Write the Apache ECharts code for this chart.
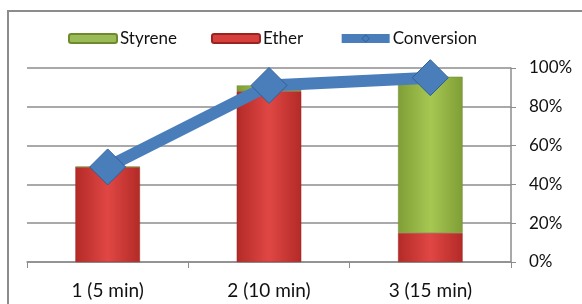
<!DOCTYPE html>
<html>
<head>
<meta charset="utf-8">
<script src="https://cdn.jsdelivr.net/npm/echarts@6/dist/echarts.min.js"></script>
<style>
  html, body { margin:0; padding:0; background:#fff; }
  #chart { width:582px; height:304px; }
</style>
</head>
<body>
<div id="chart"></div>
<script>
var categories = ['1 (5 min)', '2 (10 min)', '3 (15 min)'];
var etherVals = [49, 88, 15];
var styreneVals = [0, 3, 80.5];
var conversionVals = [49, 91, 95];
var yTicks = [0, 20, 40, 60, 80, 100];

function barGrad(dark, light){
  return new echarts.graphic.LinearGradient(0, 0, 1, 0, [
    {offset:0, color:dark}, {offset:0.5, color:light}, {offset:1, color:dark}
  ]);
}
var red = barGrad('#b32a27', '#e04744');
var green = barGrad('#7f9e36', '#a6c852');

var chart = echarts.init(document.getElementById('chart'));
chart.setOption({
  animation:false,
  textStyle:{fontFamily:'Lato, "Open Sans", sans-serif'},
  graphic:[{
    type:'rect', silent:true, z:-1,
    shape:{x:8, y:11, width:620, height:340},
    style:{fill:'none', stroke:'#8c8c8c', lineWidth:2}
  }],
  legend:{
    top:25, left:63, itemGap:34,
    itemWidth:48, itemHeight:9,
    textStyle:{fontSize:17, color:'#111', padding:[0,0,0,-2]},
    data:[
      {name:'Styrene', itemStyle:{color:'#9bbb59'}},
      {name:'Ether', itemStyle:{color:'#d6403c'}},
      {name:'Conversion', lineStyle:{width:9, color:'#4a7ebb'},
       itemStyle:{color:'#4a7ebb', borderColor:'#2f5f98', borderWidth:1}}
    ]
  },
  grid:{left:27, right:71, top:68, bottom:42},
  xAxis:{
    type:'category', data:categories,
    axisLine:{lineStyle:{color:'#8c8c8c', width:1.5}},
    axisTick:{show:true, length:6, lineStyle:{color:'#8c8c8c'}},
    axisLabel:{fontSize:19, color:'#111', margin:19}
  },
  yAxis:{
    type:'value', position:'right', min:yTicks[0], max:yTicks[yTicks.length-1], interval:20,
    axisLine:{show:true, lineStyle:{color:'#8c8c8c', width:1.5}},
    axisTick:{show:true, length:5, lineStyle:{color:'#8c8c8c'}},
    axisLabel:{fontSize:17, color:'#111', margin:18, formatter:'{value}%'},
    splitLine:{lineStyle:{color:'#8c8c8c', width:1.5}}
  },
  series:[
    {name:'Ether', type:'bar', stack:'s', data:etherVals, barWidth:'40%',
     itemStyle:{color:red, borderColor:'#9a2220', borderWidth:0.5}},
    {name:'Styrene', type:'bar', stack:'s', data:styreneVals, barWidth:'40%',
     itemStyle:{color:green, borderColor:'#6f8a2c', borderWidth:0.5}},
    {name:'Conversion', type:'line', data:conversionVals,
     symbol:'diamond', symbolSize:[36,36], z:5,
     lineStyle:{color:'#4a7ebb', width:12},
     itemStyle:{color:'#4a7ebb', borderColor:'#2f5f98', borderWidth:1}}
  ]
});
</script>
</body>
</html>
